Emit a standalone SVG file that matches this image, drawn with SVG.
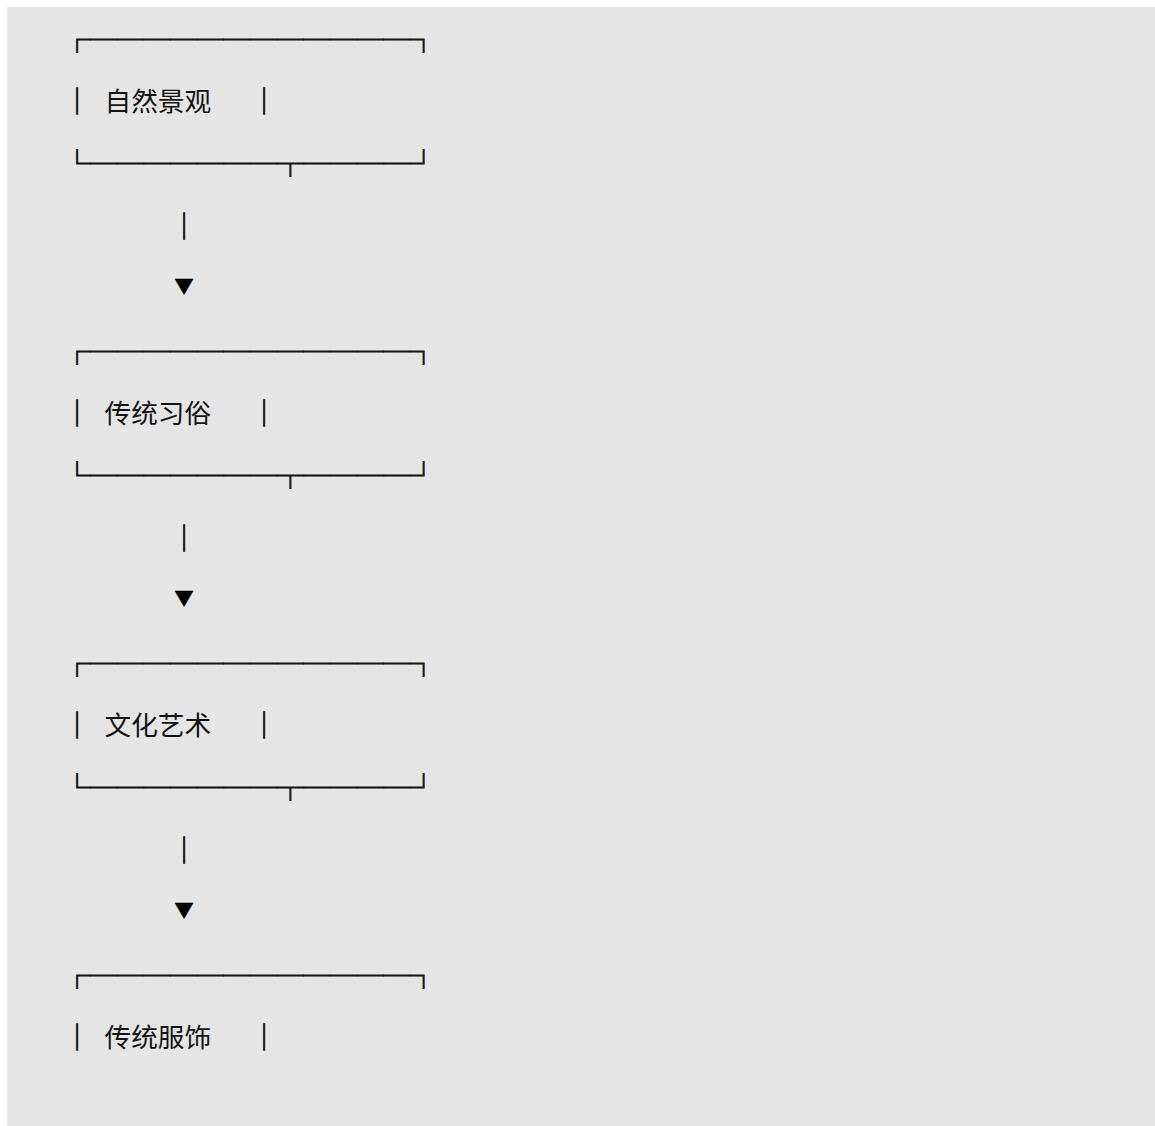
<svg xmlns="http://www.w3.org/2000/svg" width="1155" height="1126" viewBox="0 0 1155 1126">
<style>
.t{font-family:"Noto Sans CJK SC","Noto Sans",sans-serif;font-size:26.67px;fill:#141414}
.b{stroke:#141414;stroke-width:0.9px}
.m{text-anchor:middle}
.a{font-family:"Noto Sans CJK SC","Noto Sans",sans-serif;font-size:20px;fill:#000;text-anchor:middle}
</style>
<rect x="0" y="0" width="1155" height="1126" fill="#ffffff"/>
<rect x="7" y="7" width="1148" height="1119" fill="#e5e5e5"/>
<g id="node1">
<text class="t b" x="63.7" y="48.6">┌────────────┐</text>
<text class="t b m" x="77" y="111">│</text>
<text class="t" x="104.5" y="111">自然景观</text>
<text class="t b m" x="264" y="111">│</text>
<text class="t b" x="63.7" y="173.2">└───────┬────┘</text>
</g>
<g id="node2">
<text class="t b" x="63.7" y="360.6">┌────────────┐</text>
<text class="t b m" x="77" y="423">│</text>
<text class="t" x="104.5" y="423">传统习俗</text>
<text class="t b m" x="264" y="423">│</text>
<text class="t b" x="63.7" y="485.2">└───────┬────┘</text>
</g>
<g id="node3">
<text class="t b" x="63.7" y="672.6">┌────────────┐</text>
<text class="t b m" x="77" y="735">│</text>
<text class="t" x="104.5" y="735">文化艺术</text>
<text class="t b m" x="264" y="735">│</text>
<text class="t b" x="63.7" y="797.2">└───────┬────┘</text>
</g>
<g id="node4">
<text class="t b" x="63.7" y="984.6">┌────────────┐</text>
<text class="t b m" x="77" y="1047">│</text>
<text class="t" x="104.5" y="1047">传统服饰</text>
<text class="t b m" x="264" y="1047">│</text>
</g>
<g id="connectors">
<text class="t b m" x="184" y="235.8">│</text>
<text class="a" x="184" y="294">▼</text>
<text class="t b m" x="184" y="547.8">│</text>
<text class="a" x="184" y="606">▼</text>
<text class="t b m" x="184" y="859.8">│</text>
<text class="a" x="184" y="918">▼</text>
</g>
</svg>
